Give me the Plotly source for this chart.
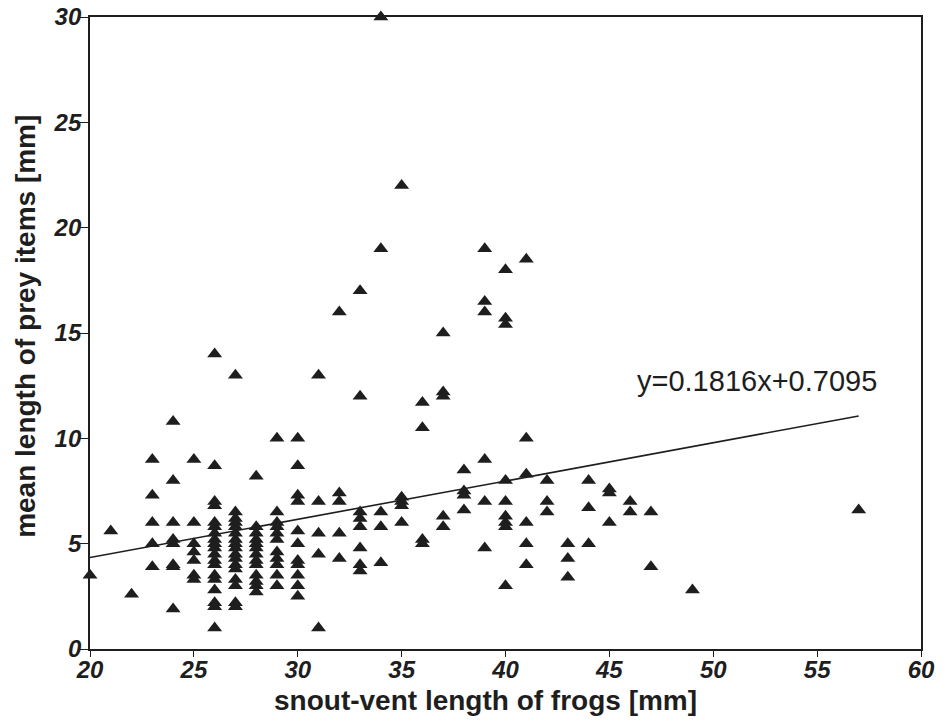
import plotly.graph_objects as go

# Data: snout-vent length (x) and mean prey length (y), per column
svl_values = {
    20: [3.5],
    21: [5.6],
    22: [2.6],
    23: [9.0, 7.3, 6.0, 5.0, 3.9],
    24: [10.8, 8.0, 6.0, 5.2, 5.0, 4.0, 3.9, 1.9],
    25: [9.0, 6.0, 5.0, 4.6, 4.2, 3.5, 3.3],
    26: [14.0, 8.7, 7.0, 6.8, 6.0, 5.8, 5.5, 5.2, 5.0, 4.8, 4.5, 4.2, 4.0, 3.5, 3.3, 2.8, 2.2, 2.0, 1.0],
    27: [13.0, 6.5, 6.2, 6.0, 5.8, 5.5, 5.2, 5.0, 4.8, 4.5, 4.3, 4.0, 3.8, 3.3, 3.0, 2.2, 2.0],
    28: [8.2, 5.8, 5.5, 5.2, 5.0, 4.8, 4.5, 4.2, 4.0, 3.5, 3.2, 3.0, 2.7],
    29: [10.0, 6.5, 6.0, 5.8, 5.5, 5.2, 4.6, 4.3, 4.0, 3.5, 3.0],
    30: [10.0, 8.7, 7.3, 7.0, 5.6, 5.0, 4.2, 4.0, 3.5, 3.0, 2.5],
    31: [13.0, 7.0, 5.5, 4.5, 1.0],
    32: [16.0, 7.4, 7.0, 5.5, 4.3],
    33: [17.0, 12.0, 6.5, 6.2, 5.8, 4.8, 4.0, 3.7],
    34: [30.0, 19.0, 6.5, 5.8, 4.1],
    35: [22.0, 7.2, 7.0, 6.8, 6.0],
    36: [11.7, 10.5, 5.2, 5.0],
    37: [15.0, 12.2, 12.0, 6.3, 5.8],
    38: [8.5, 7.5, 7.3, 6.6],
    39: [19.0, 16.5, 16.0, 9.0, 7.0, 4.8],
    40: [18.0, 15.7, 15.4, 8.0, 7.0, 6.3, 6.0, 5.8, 3.0],
    41: [18.5, 10.0, 8.3, 6.0, 5.0, 4.0],
    42: [8.0, 7.0, 6.5],
    43: [5.0, 4.3, 3.4],
    44: [8.0, 6.7, 5.0],
    45: [7.6, 7.4, 6.0],
    46: [7.0, 6.5],
    47: [6.5, 3.9],
    49: [2.8],
    57: [6.6],
}

slope = 0.1816
intercept = 0.7095
fit_x = [20, 57]
equation_label = "y=0.1816x+0.7095"
x_title = "snout-vent length of frogs [mm]"
y_title = "mean length of prey items [mm]"

x_ticks = [20, 25, 30, 35, 40, 45, 50, 55, 60]
y_ticks = [0, 5, 10, 15, 20, 25, 30]

xs, ys = [], []
for k, vals in svl_values.items():
    for v in vals:
        xs.append(k)
        ys.append(v)

fit_y = [slope * v + intercept for v in fit_x]

INK = "#1e1e1e"
FONT = "Liberation Sans, Arial, sans-serif"

fig = go.Figure()
fig.add_trace(go.Scatter(
    x=fit_x, y=fit_y, mode="lines",
    line=dict(color=INK, width=1.6), hoverinfo="skip", showlegend=False,
))
fig.add_trace(go.Scatter(
    x=xs, y=ys, mode="markers",
    marker=dict(symbol="triangle-up", size=13, color=INK),
    showlegend=False, cliponaxis=False,
))

fig.add_annotation(
    x=52.1, y=12.7, text=equation_label, showarrow=False,
    font=dict(family=FONT, size=29, color=INK),
)

titlefont = dict(family=FONT, size=28, color=INK, weight="bold")
fig.add_annotation(
    xref="paper", yref="paper", x=0.476, y=-0.081, text=x_title,
    showarrow=False, font=titlefont, xanchor="center", yanchor="middle",
)
fig.add_annotation(
    xref="paper", yref="paper", x=-0.078, y=0.51, text=y_title, textangle=-90,
    showarrow=False, font=titlefont, xanchor="center", yanchor="middle",
)

tickfont = dict(family=FONT, size=24, color=INK, weight="bold", style="italic")

fig.update_xaxes(
    range=[20, 60], tickvals=x_ticks, ticks="outside", ticklen=6, tickcolor=INK,
    showline=True, linecolor=INK, linewidth=1.8, mirror=True, automargin=False,
    showgrid=False, zeroline=False, tickfont=tickfont,
    ticklabelstandoff=-8, ticklabeloverflow="allow",
)
fig.update_yaxes(
    range=[0, 30], tickvals=y_ticks, ticks="outside", ticklen=8, tickcolor=INK,
    showline=True, linecolor=INK, linewidth=1.8, mirror=True, automargin=False,
    showgrid=False, zeroline=False, tickfont=tickfont,
    ticklabelstandoff=-6, ticklabeloverflow="allow",
)

fig.update_layout(
    width=950, height=724,
    margin=dict(l=90, r=29, t=17, b=75),
    plot_bgcolor="white", paper_bgcolor="white",
)

fig.write_html(
    "out.html",
    config={"displayModeBar": False},
    post_script="document.body.style.margin='0';",
)
